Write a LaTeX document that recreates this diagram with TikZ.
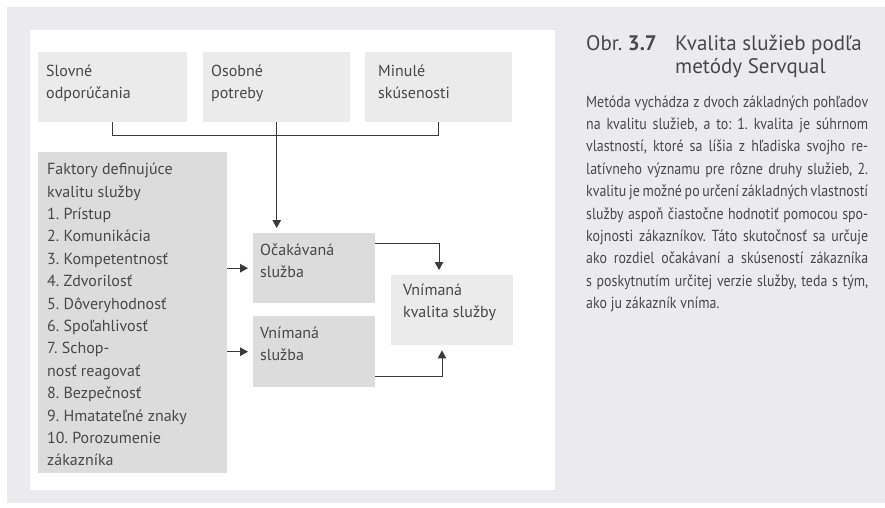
\documentclass[tikz,border=0pt]{standalone}
\usepackage{fontspec}
\setmainfont{PT Sans}
\newfontfamily\condfont[FakeStretch=0.87]{PT Sans}
\usetikzlibrary{arrows.meta,calc}
\frenchspacing
\definecolor{bgcol}{HTML}{EBEBED}
\definecolor{lightbox}{HTML}{EBEBEB}
\definecolor{darkbox}{HTML}{DCDCDC}
\definecolor{inkcol}{HTML}{3A3A3A}
\definecolor{txtcol}{HTML}{484848}
\newcommand\stk[1]{\vtop{\baselineskip=22.4pt\lineskiplimit=-100pt #1}}
\newcommand\jl[1]{\hbox to 282pt{#1}}
\tikzset{
  lbox/.style={fill=lightbox, draw=none, anchor=north west, inner sep=0pt},
  dbox/.style={fill=darkbox, draw=none, anchor=north west, inner sep=0pt},
  boxtext/.style={anchor=base west, inner sep=0pt, text=txtcol, font=\fontsize{16}{22.4}\selectfont},
  conn/.style={draw=inkcol, line width=1pt},
  arr/.style={conn, -{Triangle[length=8pt,width=8.5pt]}, shorten >=5pt},
}
\begin{document}
\begin{tikzpicture}[x=1pt,y=-1pt]
\useasboundingbox (0,0) rectangle (885,507);
\fill[white] (0,0) rectangle (885,507);
\fill[bgcol] (7,7) rectangle (885,503);
\fill[white] (30,30) rectangle (555,490);

% boxes
\node[lbox, minimum width=149pt, minimum height=70pt] (slov) at (38,52) {};
\node[lbox, minimum width=147pt, minimum height=70pt] (osob) at (203,52) {};
\node[lbox, minimum width=147pt, minimum height=70pt] (minu) at (365,52) {};
\node[dbox, minimum width=189pt, minimum height=321pt] (fak) at (38,152) {};
\node[dbox, minimum width=122pt, minimum height=70pt] (ocak) at (253,233) {};
\node[dbox, minimum width=122pt, minimum height=71pt] (vsl) at (253,316) {};
\node[lbox, minimum width=122pt, minimum height=70pt] (kval) at (391,275) {};

% texts
\node[boxtext] (tslov) at (46,76) {\stk{\hbox{Slovné}\hbox{odporúčania}}};
\node[boxtext] (tosob) at (211,76) {\stk{\hbox{Osobné}\hbox{potreby}}};
\node[boxtext] (tminu) at (378,76) {\stk{\hbox{Minulé}\hbox{skúsenosti}}};
\node[boxtext] (tfak) at (47,174.6) {\stk{\hbox{Faktory definujúce}\hbox{kvalitu služby}\hbox{1. Prístup}\hbox{2. Komunikácia}\hbox{3. Kompetentnosť}\hbox{4. Zdvorilosť}\hbox{5. Dôveryhodnosť}\hbox{6. Spoľahlivosť}\hbox{7. Schop-}\hbox{nosť reagovať}\hbox{8. Bezpečnosť}\hbox{9. Hmatateľné znaky}\hbox{10. Porozumenie}\hbox{zákazníka}}};
\node[boxtext] (tocak) at (260,255) {\stk{\hbox{Očakávaná}\hbox{služba}}};
\node[boxtext] (tvsl) at (260,338) {\stk{\hbox{Vnímaná}\hbox{služba}}};
\node[boxtext] (tkval) at (403,295) {\stk{\hbox{Vnímaná}\hbox{kvalita služby}}};

% connectors
\draw[conn] (slov.south) -- ++(0,13) -| (minu.south);
\draw[arr] (osob.south) -- (osob.south |- ocak.north);
\draw[arr] (fak.east |- ocak.west) -- (ocak.west);
\draw[arr] (fak.east |- vsl.west) -- (vsl.west);
\draw[arr] ($(ocak.north east)+(0,10)$) -| ($(kval.north west)+(48,0)$);
\draw[arr] ($(vsl.south east)+(0,-11)$) -| ($(kval.south west)+(51,0)$);

% caption
\node[anchor=base west, inner sep=0pt, text=txtcol, font=\fontsize{21}{23}\selectfont] (obr) at (586,50) {Obr. \textbf{3.7}};
\node[anchor=base west, inner sep=0pt, text=txtcol, font=\fontsize{21}{23}\selectfont] (title) at (675,50) {\vtop{\baselineskip=23pt\lineskiplimit=-100pt\hbox{Kvalita služieb podľa}\hbox{metódy Servqual}}};
\node[anchor=base west, inner sep=0pt, text=txtcol, font=\condfont\fontsize{16}{22.4}\selectfont] (body) at (586,107) {\stk{%
\jl{Metóda vychádza z dvoch základných pohľadov}
\jl{na kvalitu služieb, a to: 1. kvalita je súhrnom}
\jl{vlastností, ktoré sa líšia z hľadiska svojho re-}
\jl{latívneho významu pre rôzne druhy služieb, 2.}
\jl{kvalitu je možné po určení základných vlastností}
\jl{služby aspoň čiastočne hodnotiť pomocou spo-}
\jl{kojnosti zákazníkov. Táto skutočnosť sa určuje}
\jl{ako rozdiel očakávaní a skúseností zákazníka}
\jl{s poskytnutím určitej verzie služby, teda s tým,}
\hbox{ako ju zákazník vníma.}}};
\end{tikzpicture}
\end{document}
